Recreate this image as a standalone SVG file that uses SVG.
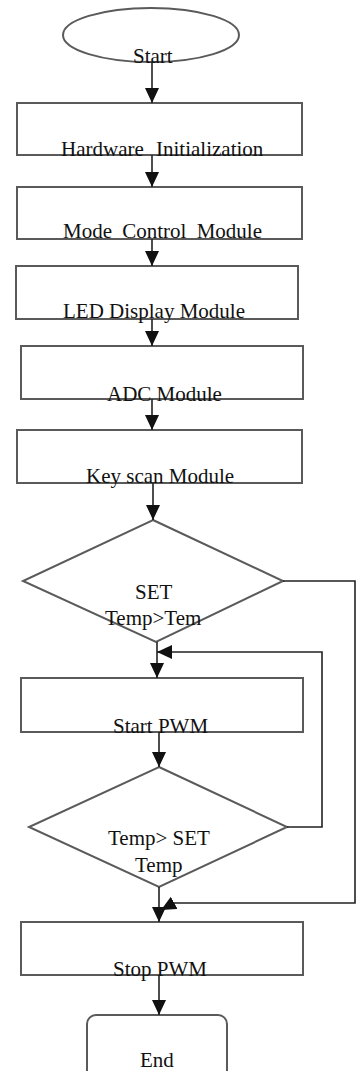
<svg xmlns="http://www.w3.org/2000/svg" width="357" height="1071" viewBox="0 0 357 1071">
  <style>
    .box { fill: #fff; stroke: #5a5a5a; stroke-width: 2; }
    .lbl { font-family: "Liberation Serif", "Times New Roman", serif; font-size: 21px; fill: #111; }
    .wire { fill: none; stroke: #222; stroke-width: 1.6; }
  </style>
  <defs>
    <marker id="head" markerUnits="userSpaceOnUse" markerWidth="16" markerHeight="14" refX="15" refY="7" orient="auto">
      <path d="M0,0 L15,7 L0,14 Z" fill="#111"/>
    </marker>
  </defs>
  <rect width="357" height="1071" fill="#fff"/>

  <g id="start">
    <ellipse class="box" cx="151" cy="35" rx="88" ry="27"/>
    <text class="lbl" x="133" y="63">Start</text>
  </g>
  <g id="hw-init">
    <rect class="box" x="17" y="103" width="285" height="52"/>
    <text class="lbl" x="61" y="156" word-spacing="7">Hardware Initialization</text>
  </g>
  <g id="mode-control">
    <rect class="box" x="17" y="187" width="285" height="52"/>
    <text class="lbl" x="63" y="238" word-spacing="5">Mode Control Module</text>
  </g>
  <g id="led-display">
    <rect class="box" x="16" y="266" width="282" height="53"/>
    <text class="lbl" x="63" y="318">LED Display Module</text>
  </g>
  <g id="adc">
    <rect class="box" x="21" y="346" width="282" height="53"/>
    <text class="lbl" x="107" y="401">ADC Module</text>
  </g>
  <g id="key-scan">
    <rect class="box" x="17" y="430" width="285" height="53"/>
    <text class="lbl" x="86" y="483">Key scan Module</text>
  </g>
  <g id="check-set">
    <polygon class="box" points="153,520 283,581 156,642 23,581"/>
    <text class="lbl" x="135" y="599">SET</text>
    <text class="lbl" x="105" y="625">Temp&gt;Tem</text>
  </g>
  <g id="start-pwm">
    <rect class="box" x="21" y="678" width="282" height="54"/>
    <text class="lbl" x="113" y="733">Start PWM</text>
  </g>
  <g id="check-temp">
    <polygon class="box" points="159,767 287,827 159,887 29,827"/>
    <text class="lbl" x="108" y="845">Temp&gt; SET</text>
    <text class="lbl" x="135" y="872">Temp</text>
  </g>
  <g id="stop-pwm">
    <rect class="box" x="21" y="922" width="282" height="53"/>
    <text class="lbl" x="113" y="976">Stop PWM</text>
  </g>
  <g id="end">
    <rect class="box" x="87" y="1015" width="140" height="70" rx="9" ry="9"/>
    <text class="lbl" x="140" y="1067">End</text>
  </g>

  <g id="connectors">
    <path class="wire" d="M152,62 V103" marker-end="url(#head)"/>
    <path class="wire" d="M152,155 V187" marker-end="url(#head)"/>
    <path class="wire" d="M152,239 V266" marker-end="url(#head)"/>
    <path class="wire" d="M152,319 V346" marker-end="url(#head)"/>
    <path class="wire" d="M152,399 V430" marker-end="url(#head)"/>
    <path class="wire" d="M153,483 V520" marker-end="url(#head)"/>
    <path class="wire" d="M157,642 V678" marker-end="url(#head)"/>
    <path class="wire" d="M287,827 H322 V652 H157" marker-end="url(#head)"/>
    <path class="wire" d="M159,732 V767" marker-end="url(#head)"/>
    <path class="wire" d="M159,887 V922" marker-end="url(#head)"/>
    <path class="wire" d="M283,581 H355 V903 H174 L161,910" marker-end="url(#head)"/>
    <path class="wire" d="M159,975 V1015" marker-end="url(#head)"/>
  </g>
</svg>
